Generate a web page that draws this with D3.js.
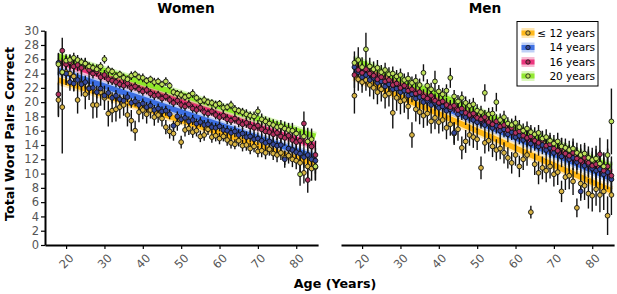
<!DOCTYPE html>
<html>
<head>
<meta charset="utf-8">
<script src="https://cdn.jsdelivr.net/npm/d3@7"></script>
<style>
  body { margin: 0; background: #fff; }
  text { font-family: "DejaVu Sans", sans-serif; }
</style>
</head>
<body>
<div id="chart"></div>
<script>
// ages 18..85, one mean per education group
const ages = d3.range(18, 86);
const groups = ["≤ 12 years", "14 years", "16 years", "20 years"];
const bandColors = ["#ffb000", "#2c63e0", "#ea1f6e", "#86e61a"];
const pointColors = ["#d9b443", "#34489c", "#b3305f", "#bde05a"];
const yTicks = [0, 2, 4, 6, 8, 10, 12, 14, 16, 18, 20, 22, 24, 26, 28, 30];
const xTicks = [20, 30, 40, 50, 60, 70, 80];

// fitted lines: value at age 18 and at age 85
const womenFitStart = [23.1, 24.4, 25.7, 26.4];
const womenFitEnd = [11.3, 12.3, 13.9, 15.2];
const menFitStart = [23.6, 24.6, 25.2, 25.9];
const menFitEnd = [7.6, 9.3, 10.0, 10.9];

// women means
const womenLow = [
  20.3, 19.3, 24.2, 24.0, 23.6, 20.3, 22.6, 21.1, 22.0, 19.6,
  19.6, 21.4, 20.6, 18.4, 18.8, 19.0, 19.3, 19.6, 18.2, 17.4,
  16.0, 18.6, 18.9, 18.3, 18.9, 17.9, 18.2, 17.7, 16.5, 15.9,
  15.6, 17.0, 14.4, 16.1, 16.3, 15.8, 16.0, 15.2, 15.4, 16.2,
  15.1, 15.3, 14.9, 15.2, 14.7, 14.3, 14.1, 14.6, 13.9, 14.0,
  13.5, 13.8, 13.1, 13.2, 12.9, 13.4, 12.8, 12.6, 12.9, 12.2,
  12.5, 12.0, 11.8, 11.5, 10.1, 11.0, 10.7, 10.9];
const women14 = [
  25.5, 24.1, 24.0, 22.8, 22.6, 23.1, 22.5, 22.8, 21.9, 22.0,
  21.4, 21.9, 20.9, 21.3, 20.6, 20.9, 20.4, 20.2, 20.7, 19.9,
  20.1, 19.6, 19.8, 19.3, 19.5, 18.9, 19.1, 18.7, 18.8, 18.3,
  16.7, 18.0, 17.6, 17.8, 17.3, 17.5, 17.0, 17.2, 16.8, 16.9,
  16.5, 16.4, 16.6, 16.1, 16.0, 15.7, 15.9, 15.4, 15.6, 15.1,
  15.2, 14.8, 14.9, 14.6, 14.3, 14.5, 14.1, 13.9, 14.0, 12.0,
  13.5, 13.3, 13.0, 12.8, 12.3, 12.6, 12.0, 11.8];
const women16 = [
  21.1, 27.2, 25.3, 25.6, 25.0, 25.2, 24.8, 25.4, 24.5, 24.0,
  24.3, 23.5, 23.8, 23.2, 23.0, 22.8, 22.5, 22.3, 22.6, 22.0,
  22.2, 21.8, 21.5, 21.7, 21.2, 20.9, 21.0, 20.5, 20.8, 20.3,
  19.9, 20.2, 19.6, 19.4, 19.7, 19.1, 18.9, 19.2, 18.6, 18.4,
  18.7, 18.2, 17.9, 18.1, 17.6, 17.4, 17.7, 17.2, 16.9, 17.1,
  16.6, 16.4, 16.7, 16.2, 15.9, 15.8, 15.5, 15.7, 15.2, 15.0,
  15.3, 14.7, 14.4, 14.6, 17.0, 9.1, 13.8, 12.6];
const women20 = [
  25.3, 24.2, 25.8, 25.9, 26.2, 25.9, 25.6, 25.4, 25.0, 24.8,
  24.6, 25.0, 26.0, 24.5, 24.3, 23.6, 23.9, 23.4, 23.2, 23.7,
  23.9, 23.5, 23.4, 23.0, 23.2, 22.8, 22.9, 22.5, 22.9, 22.3,
  21.4, 21.2, 21.0, 20.7, 20.9, 21.2, 20.6, 20.1, 20.3, 20.0,
  19.9, 19.6, 19.8, 19.2, 19.3, 19.6, 19.0, 18.8, 18.6, 18.3,
  18.1, 18.0, 18.7, 17.6, 17.3, 17.0, 16.8, 16.5, 16.6, 16.3,
  16.1, 16.0, 15.6, 9.9, 15.2, 14.5, 14.8, 11.0];

// women error half-widths
const womenLowErr = [
  2.4, 6.5, 1.8, 1.6, 2.0, 1.9, 1.8, 2.1, 1.7, 1.9,
  1.8, 1.9, 1.7, 1.8, 1.6, 1.7, 1.6, 1.5, 1.6, 1.5,
  1.4, 1.4, 1.3, 1.3, 1.2, 1.2, 1.1, 1.1, 1.0, 1.0,
  1.0, 1.0, 0.9, 0.9, 0.9, 0.8, 0.8, 0.8, 0.8, 0.8,
  0.8, 0.8, 0.8, 0.7, 0.8, 0.8, 0.7, 0.8, 0.8, 0.8,
  0.8, 0.8, 0.8, 0.9, 0.9, 0.9, 0.9, 1.0, 1.0, 1.0,
  1.1, 1.1, 1.2, 1.3, 1.5, 1.6, 1.7, 1.8];
const women14Err = [
  1.4, 1.6, 1.3, 1.2, 1.1, 1.0, 1.0, 0.9, 0.9, 0.9,
  0.9, 0.8, 0.8, 0.8, 0.8, 0.8, 0.7, 0.7, 0.7, 0.7,
  0.7, 0.7, 0.7, 0.7, 0.7, 0.7, 0.7, 0.7, 0.7, 0.7,
  0.7, 0.7, 0.7, 0.7, 0.7, 0.7, 0.7, 0.7, 0.7, 0.7,
  0.7, 0.7, 0.7, 0.7, 0.7, 0.7, 0.8, 0.8, 0.8, 0.8,
  0.8, 0.9, 0.9, 0.9, 1.0, 1.0, 1.0, 1.1, 1.1, 1.2,
  1.2, 1.3, 1.3, 1.4, 1.5, 1.6, 1.7, 1.8];
const women16Err = [
  3.0, 1.8, 1.2, 1.0, 0.9, 0.9, 0.8, 0.8, 0.8, 0.7,
  0.7, 0.7, 0.7, 0.7, 0.6, 0.7, 0.6, 0.6, 0.7, 0.6,
  0.6, 0.6, 0.6, 0.6, 0.6, 0.6, 0.6, 0.6, 0.6, 0.6,
  0.6, 0.6, 0.6, 0.6, 0.6, 0.6, 0.6, 0.6, 0.6, 0.6,
  0.6, 0.6, 0.6, 0.6, 0.7, 0.6, 0.7, 0.7, 0.7, 0.7,
  0.8, 0.8, 0.8, 0.9, 0.9, 0.9, 1.0, 1.0, 1.1, 1.1,
  1.2, 1.2, 1.3, 1.4, 1.7, 1.8, 1.6, 2.0];
const women20Err = [
  1.5, 2.0, 0.9, 0.8, 0.7, 0.7, 0.6, 0.7, 0.6, 0.6,
  0.7, 0.6, 0.6, 0.6, 0.5, 0.6, 0.5, 0.6, 0.5, 0.6,
  0.5, 0.5, 0.6, 0.5, 0.5, 0.6, 0.5, 0.5, 0.6, 0.5,
  0.5, 0.5, 0.6, 0.5, 0.5, 0.6, 0.5, 0.5, 0.6, 0.5,
  0.5, 0.6, 0.5, 0.6, 0.5, 0.6, 0.6, 0.5, 0.6, 0.7,
  0.6, 0.7, 0.7, 0.8, 0.7, 0.8, 0.8, 0.9, 0.9, 1.0,
  1.0, 1.1, 0.9, 1.6, 1.4, 1.9, 1.5, 2.0];

// men means
const menLow = [
  20.9, 23.2, 22.8, 23.1, 22.4, 22.0, 21.4, 21.8, 20.9, 21.2,
  18.5, 20.6, 20.1, 20.3, 19.4, 15.4, 19.0, 18.6, 18.1, 18.4,
  17.3, 17.8, 17.2, 17.5, 16.4, 16.9, 15.6, 16.2, 13.6, 14.5,
  15.4, 15.1, 14.8, 10.8, 14.3, 14.6, 13.8, 13.3, 13.5, 12.9,
  12.2, 11.5, 12.6, 11.0, 12.0, 12.6, 4.6, 11.3, 10.1, 10.8,
  10.4, 11.0, 9.9, 10.2, 7.5, 9.5, 9.7, 8.9, 5.2, 8.6,
  8.3, 7.2, 6.9, 7.8, 7.0, 7.5, 4.1, 7.0];
const men14 = [
  24.9, 24.2, 23.5, 23.8, 23.1, 23.4, 22.7, 22.9, 22.2, 22.5,
  21.8, 21.9, 21.4, 21.6, 20.9, 21.1, 20.5, 20.7, 20.0, 20.2,
  19.6, 19.9, 19.2, 19.4, 18.8, 19.0, 15.7, 18.3, 18.6, 17.9,
  18.1, 17.5, 17.2, 17.4, 16.8, 17.0, 16.4, 16.7, 16.0, 16.2,
  15.5, 15.8, 15.1, 15.3, 14.7, 14.9, 14.2, 14.5, 13.8, 14.0,
  13.3, 13.6, 12.9, 13.1, 12.4, 12.7, 12.0, 12.2, 11.6, 7.5,
  11.1, 11.3, 10.7, 10.4, 10.6, 9.9, 10.2, 9.2];
const men16 = [
  23.8, 24.5, 24.1, 24.6, 24.0, 23.7, 23.2, 23.5, 22.9, 23.1,
  22.4, 22.6, 22.0, 22.3, 21.6, 21.8, 21.2, 21.4, 20.8, 20.5,
  20.9, 20.2, 19.9, 20.1, 19.6, 19.3, 19.5, 18.9, 19.1, 18.5,
  18.2, 18.4, 17.8, 17.6, 17.9, 17.2, 16.9, 17.3, 16.6, 16.8,
  16.1, 16.4, 15.7, 15.9, 15.3, 15.0, 15.2, 14.6, 14.3, 14.7,
  13.9, 14.1, 13.5, 13.2, 13.6, 12.8, 12.5, 12.9, 12.1, 11.8,
  12.2, 11.5, 11.1, 11.3, 12.7, 10.4, 11.0, 9.7];
const men20 = [
  25.5, 25.9, 24.9, 27.4, 25.0, 24.6, 24.8, 24.2, 24.5, 23.9,
  24.0, 23.6, 23.8, 23.1, 23.3, 22.7, 23.0, 22.4, 24.1, 22.3,
  21.8, 22.9, 21.5, 21.1, 21.6, 23.4, 20.8, 20.1, 20.6, 19.9,
  19.5, 19.7, 18.8, 18.6, 21.3, 18.3, 18.4, 20.0, 17.5, 17.9,
  17.0, 16.8, 17.1, 16.5, 16.0, 16.3, 15.8, 15.5, 15.7, 14.9,
  15.1, 14.6, 14.2, 14.5, 13.8, 13.6, 13.3, 13.5, 12.9, 12.6,
  12.8, 12.2, 11.9, 12.1, 11.4, 11.0, 12.6, 17.3];

// men error half-widths
const menLowErr = [
  2.5, 1.6, 1.5, 1.5, 1.6, 1.6, 1.7, 1.7, 1.8, 1.8,
  2.2, 1.8, 1.8, 1.8, 1.8, 1.8, 1.7, 1.7, 1.7, 1.7,
  1.7, 1.6, 1.6, 1.6, 1.6, 1.6, 1.6, 1.6, 1.6, 1.6,
  1.5, 1.5, 1.5, 1.6, 1.5, 1.5, 1.5, 1.5, 1.5, 1.5,
  1.5, 1.5, 1.5, 1.5, 1.5, 1.5, 0.9, 1.5, 1.6, 1.6,
  1.6, 1.7, 1.7, 1.8, 1.5, 1.8, 1.9, 1.9, 1.3, 2.0,
  2.0, 2.1, 2.2, 2.3, 2.4, 2.6, 2.7, 2.8];
const men14Err = [
  1.5, 1.4, 1.3, 1.2, 1.2, 1.1, 1.1, 1.1, 1.1, 1.1,
  1.1, 1.1, 1.1, 1.1, 1.1, 1.1, 1.1, 1.1, 1.1, 1.1,
  1.1, 1.1, 1.1, 1.1, 1.1, 1.1, 1.5, 1.1, 1.1, 1.1,
  1.1, 1.1, 1.1, 1.1, 1.1, 1.1, 1.1, 1.1, 1.1, 1.1,
  1.1, 1.1, 1.2, 1.2, 1.2, 1.2, 1.3, 1.3, 1.3, 1.3,
  1.4, 1.4, 1.4, 1.5, 1.5, 1.6, 1.6, 1.7, 1.7, 1.3,
  1.8, 1.9, 2.0, 2.1, 2.2, 2.3, 2.4, 2.5];
const men16Err = [
  1.8, 1.5, 1.3, 1.2, 1.1, 1.1, 1.0, 1.0, 1.0, 1.0,
  1.0, 1.0, 1.0, 1.0, 1.0, 1.0, 1.0, 1.0, 1.0, 1.0,
  1.0, 1.0, 1.0, 1.0, 1.0, 1.0, 1.0, 1.0, 1.0, 1.0,
  1.0, 1.0, 1.0, 1.0, 1.0, 1.0, 1.0, 1.0, 1.0, 1.0,
  1.0, 1.1, 1.1, 1.1, 1.1, 1.1, 1.2, 1.2, 1.2, 1.2,
  1.3, 1.3, 1.3, 1.4, 1.4, 1.5, 1.5, 1.6, 1.6, 1.7,
  1.8, 1.9, 2.0, 2.1, 2.3, 2.4, 2.5, 2.7];
const men20Err = [
  1.6, 1.8, 1.4, 2.3, 1.2, 1.1, 1.1, 1.0, 1.0, 1.0,
  1.0, 0.9, 0.9, 0.9, 0.9, 0.9, 0.9, 0.9, 1.2, 0.9,
  0.9, 1.5, 0.9, 0.9, 0.9, 1.4, 0.9, 0.9, 0.9, 0.9,
  0.9, 0.9, 0.9, 0.9, 1.2, 0.9, 0.9, 1.3, 0.9, 0.9,
  0.9, 0.9, 1.0, 1.0, 1.0, 1.0, 1.0, 1.0, 1.1, 1.1,
  1.1, 1.1, 1.2, 1.2, 1.2, 1.3, 1.3, 1.4, 1.4, 1.5,
  1.5, 1.6, 1.7, 1.8, 1.9, 2.0, 2.2, 4.6];

const panels = [
  { title: "Women", range: [45, 318.1], titleX: 186, yAxis: true,
    means: [womenLow, women14, women16, women20],
    errs: [womenLowErr, women14Err, women16Err, women20Err],
    fitStart: womenFitStart, fitEnd: womenFitEnd },
  { title: "Men", range: [341, 614.1], titleX: 485, yAxis: false,
    means: [menLow, men14, men16, men20],
    errs: [menLowErr, men14Err, men16Err, men20Err],
    fitStart: menFitStart, fitEnd: menFitEnd }
];

const width = 617, height = 294;

const svg = d3.select("#chart")
  .append("svg")
  .attr("width", width)
  .attr("height", height);

const y = d3.scaleLinear().domain([0, 30]).range([245, 30.7]);

for (let p of panels) {
  const x = d3.scaleLinear().domain([14.5, 85.7]).range(p.range);
  const g = svg.append("g");

  // x axis
  const xa = g.append("g")
    .attr("transform", `translate(0,${y(0)})`)
    .call(d3.axisBottom(x).tickValues(xTicks).tickSize(4).tickSizeOuter(0));
  xa.select(".domain").attr("stroke", "#000").attr("stroke-width", 2);
  xa.selectAll(".tick line").attr("stroke", "#000").attr("stroke-width", 1.2);
  xa.selectAll(".tick text")
    .attr("y", null).attr("dy", "0.35em")
    .attr("text-anchor", "end")
    .attr("transform", "translate(5,11) rotate(-45)")
    .attr("fill", "#555")
    .style("font-size", "11.5px");

  if (p.yAxis) {
    const ya = g.append("g")
      .attr("transform", `translate(${p.range[0]},0)`)
      .call(d3.axisLeft(y).tickValues(yTicks).tickSize(4).tickSizeOuter(0));
    ya.select(".domain").attr("stroke", "#000").attr("stroke-width", 2);
    ya.selectAll(".tick line").attr("stroke", "#000").attr("stroke-width", 1.2);
    ya.selectAll(".tick text")
      .attr("x", -6)
      .attr("fill", "#555")
      .style("font-size", "11.5px");
  }

  // regression bands (wide faint band + solid core)
  groups.forEach((grp, i) => {
    const x1 = x(18), x2 = x(85);
    const y1 = y(p.fitStart[i]), y2 = y(p.fitEnd[i]);
    g.append("line")
      .attr("x1", x1).attr("y1", y1).attr("x2", x2).attr("y2", y2)
      .attr("stroke", bandColors[i]).attr("stroke-width", 9.5)
      .attr("stroke-opacity", 0.3);
    g.append("line")
      .attr("x1", x1).attr("y1", y1).attr("x2", x2).attr("y2", y2)
      .attr("stroke", bandColors[i]).attr("stroke-width", 5.5)
      .attr("stroke-opacity", 0.9);
  });

  // error bars
  groups.forEach((grp, i) => {
    g.append("g")
      .selectAll("line")
      .data(ages.map((a, j) => ({ age: a, m: p.means[i][j], e: p.errs[i][j] })))
      .join("line")
      .attr("x1", d => x(d.age)).attr("x2", d => x(d.age))
      .attr("y1", d => y(d.m - d.e)).attr("y2", d => y(d.m + d.e))
      .attr("stroke", "#111").attr("stroke-width", 1.4);
  });

  // points
  groups.forEach((grp, i) => {
    g.append("g")
      .selectAll("circle")
      .data(ages.map((a, j) => ({ age: a, m: p.means[i][j] })))
      .join("circle")
      .attr("cx", d => x(d.age)).attr("cy", d => y(d.m))
      .attr("r", 2.4)
      .attr("fill", pointColors[i])
      .attr("stroke", "#111").attr("stroke-width", 0.9);
  });

  g.append("text")
    .attr("x", p.titleX).attr("y", 13)
    .attr("text-anchor", "middle")
    .style("font-size", "13.7px").style("font-weight", "bold")
    .text(p.title);
}

// y label
svg.append("text")
  .attr("transform", "translate(14,134) rotate(-90)")
  .attr("text-anchor", "middle")
  .style("font-size", "12.7px").style("font-weight", "bold")
  .text("Total Word Pairs Correct");

// x label
svg.append("text")
  .attr("x", 335).attr("y", 288)
  .attr("text-anchor", "middle")
  .style("font-size", "12.7px").style("font-weight", "bold")
  .text("Age (Years)");

// legend
const legend = svg.append("g");
legend.append("rect")
  .attr("x", 517).attr("y", 21.5).attr("width", 81).attr("height", 64.5)
  .attr("fill", "#fff").attr("stroke", "#000").attr("stroke-width", 1);
const legendY = [33, 47.5, 62, 76];
groups.forEach((grp, i) => {
  legend.append("rect")
    .attr("x", 521.5).attr("y", legendY[i] - 5).attr("width", 13).attr("height", 10)
    .attr("fill", bandColors[i]).attr("fill-opacity", 0.3);
  legend.append("rect")
    .attr("x", 521.5).attr("y", legendY[i] - 2.5).attr("width", 13).attr("height", 5)
    .attr("fill", bandColors[i]).attr("fill-opacity", 0.85);
  legend.append("circle")
    .attr("cx", 528).attr("cy", legendY[i]).attr("r", 2.2)
    .attr("fill", pointColors[i]).attr("stroke", "#111").attr("stroke-width", 0.8);
  legend.append("text")
    .attr("x", 595).attr("y", legendY[i]).attr("dy", "0.35em")
    .attr("text-anchor", "end")
    .style("font-size", "10.5px")
    .text(grp);
});
</script>
</body>
</html>
